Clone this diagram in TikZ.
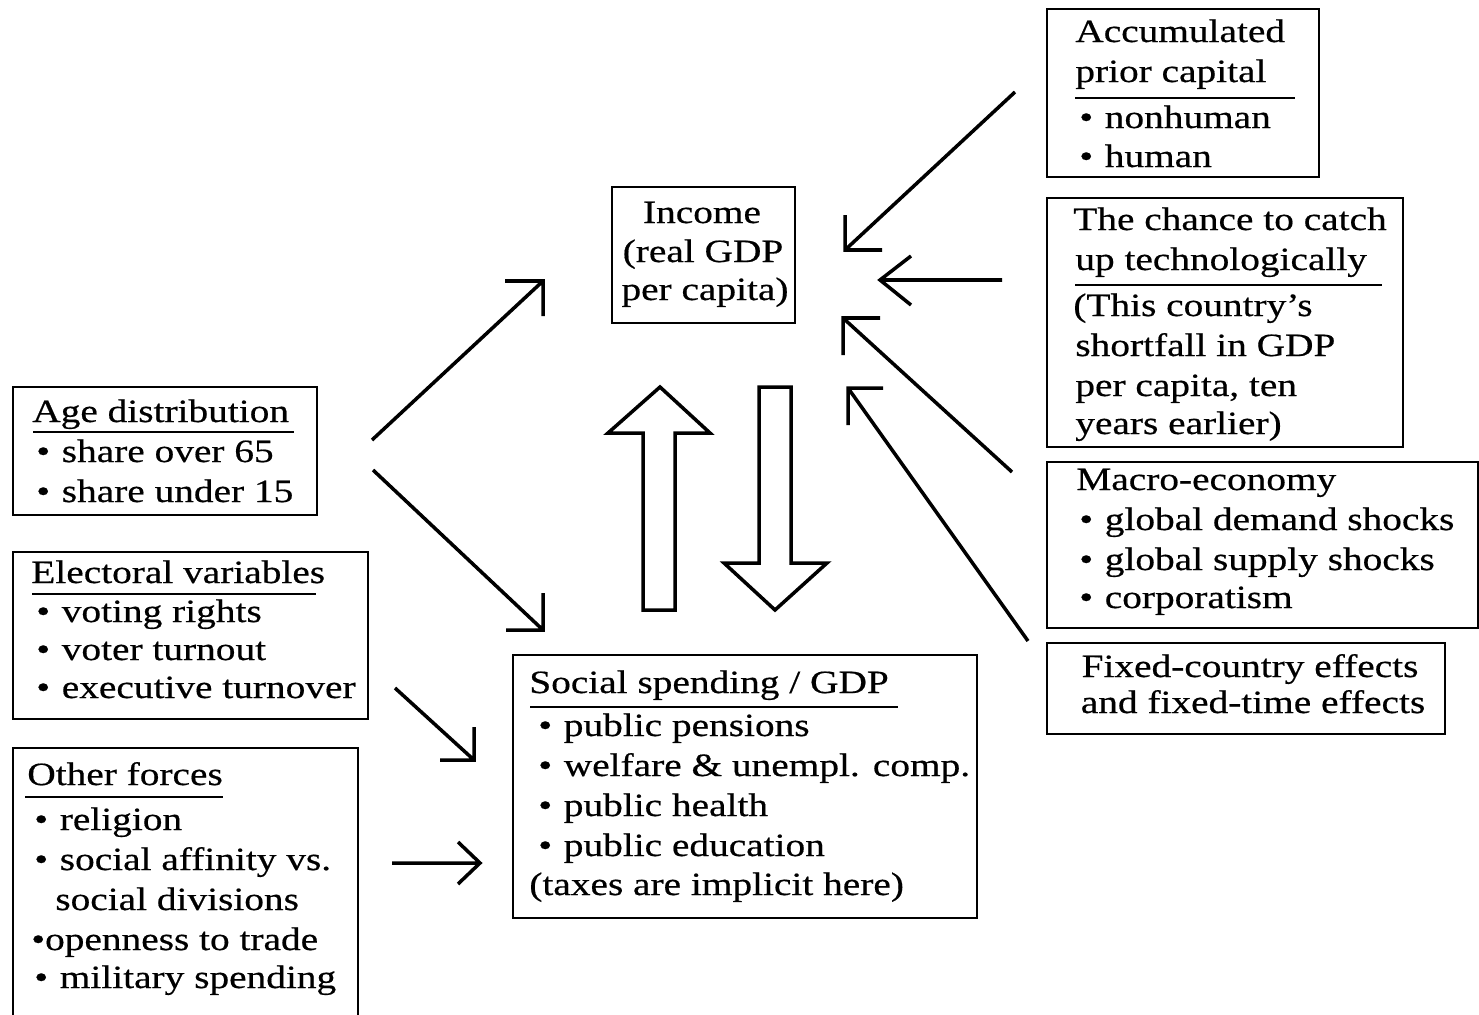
\documentclass[tikz,border=0pt]{standalone}
\usepackage{fontspec}
\setmainfont[FakeStretch=1.21, FakeBold=0.5]{Liberation Serif}
\usetikzlibrary{fit}
\newcommand{\diagfont}{\fontsize{18.5}{22}\selectfont}
\newcommand{\bul}{\textbullet\hspace{0.36em}}

\begin{document}
\begin{tikzpicture}[x=0.02cm, y=-0.02cm,
  box/.style={draw, line width=1.2pt, inner sep=0pt},
  ln/.style={anchor=base west, inner sep=0pt, font=\diagfont},
  lc/.style={anchor=base, inner sep=0pt, font=\diagfont},
  headrule/.style={line width=1.1pt},
  conn/.style={line width=2pt, line join=miter},
  block/.style={draw, line width=2pt, fill=white, line join=miter}]

\path[use as bounding box, clip] (0,0) rectangle (1479,1014);

% ---- boxes ----
\node[box, fit={(612,187)(795,323)}]   (income)    {};
\node[box, fit={(1047,9)(1319,177)}]   (capital)   {};
\node[box, fit={(1047,198)(1403,447)}] (catchup)   {};
\node[box, fit={(1047,462)(1478,628)}] (macro)     {};
\node[box, fit={(1047,643)(1445,734)}] (fixed)     {};
\node[box, fit={(13,387)(317,515)}]    (age)       {};
\node[box, fit={(13,552)(368,719)}]    (electoral) {};
\node[box, fit={(13,748)(358,1040)}]   (other)     {};
\node[box, fit={(513,655)(977,918)}]   (social)    {};

% ---- income ----
\node[lc] (inc1) at (702,223) {Income};
\node[lc] (inc2) at (703,262) {(real GDP};
\node[lc] (inc3) at (705,300) {per capita)};

% ---- accumulated capital ----
\node[ln] (cap1) at (1075,42)  {Accumulated};
\node[ln] (cap2) at (1075,82)  {prior capital};
\draw[headrule] (1075,98) -- (1295,98);
\node[ln] (cap3) at (1079,128) {\bul nonhuman};
\node[ln] (cap4) at (1079,167) {\bul human};

% ---- catch-up ----
\node[ln] (cat1) at (1073,230) {The chance to catch};
\node[ln] (cat2) at (1075,270) {up technologically};
\draw[headrule] (1075,285) -- (1382,285);
\node[ln] (cat3) at (1073,316) {(This country’s};
\node[ln] (cat4) at (1075,356) {shortfall in GDP};
\node[ln] (cat5) at (1075,396) {per capita, ten};
\node[ln] (cat6) at (1075,434) {years earlier)};

% ---- macro-economy ----
\node[ln] (mac1) at (1076,490) {Macro-economy};
\node[ln] (mac2) at (1079,530) {\bul global demand shocks};
\node[ln] (mac3) at (1079,570) {\bul global supply shocks};
\node[ln] (mac4) at (1079,608) {\bul corporatism};

% ---- fixed effects ----
\node[lc] (fix1) at (1250,677) {Fixed-country effects};
\node[lc] (fix2) at (1253,713) {and fixed-time effects};

% ---- age distribution ----
\node[ln] (age1) at (32,422) {Age distribution};
\draw[headrule] (33,432) -- (294,432);
\node[ln] (age2) at (36,462) {\bul share over 65};
\node[ln] (age3) at (36,502) {\bul share under 15};

% ---- electoral variables ----
\node[ln] (ele1) at (31,583) {Electoral variables};
\draw[headrule] (32,594) -- (316,594);
\node[ln] (ele2) at (36,622) {\bul voting rights};
\node[ln] (ele3) at (36,660) {\bul voter turnout};
\node[ln] (ele4) at (36,698) {\bul executive turnover};

% ---- other forces ----
\node[ln] (oth1) at (27,785) {Other forces};
\draw[headrule] (25,797) -- (223,797);
\node[ln] (oth2) at (34,830) {\bul religion};
\node[ln] (oth3) at (34,870) {\bul social affinity vs.};
\node[ln] (oth4) at (55,910) {social divisions};
\node[ln] (oth5) at (31,950) {\textbullet openness to trade};
\node[ln] (oth6) at (34,988) {\bul military spending};

% ---- social spending ----
\node[ln] (soc1) at (529,693) {Social spending / GDP};
\draw[headrule] (530,707) -- (898,707);
\node[ln] (soc2) at (538,736) {\bul public pensions};
\node[ln] (soc3) at (538,776) {\bul welfare \& unempl. comp.};
\node[ln] (soc4) at (538,816) {\bul public health};
\node[ln] (soc5) at (538,856) {\bul public education};
\node[ln] (soc6) at (529,895) {(taxes are implicit here)};

% ---- connector end points ----
\coordinate (ageA)  at (372,440);  \coordinate (ageAt) at (543,281);
\coordinate (ageB)  at (373,470);  \coordinate (ageBt) at (543,630);
\coordinate (eleA)  at (395,688);  \coordinate (eleAt) at (474,760);
\coordinate (othA)  at (392,863);  \coordinate (othAt) at (480,863);
\coordinate (capA)  at (1015,92);  \coordinate (capAt) at (845,250);
\coordinate (catA)  at (1002,280); \coordinate (catAt) at (880,280);
\coordinate (macA)  at (1012,472); \coordinate (macAt) at (843,318);
\coordinate (fixA)  at (1028,641); \coordinate (fixAt) at (848,388);

% ---- connectors with open corner heads ----
\draw[conn] (ageA) -- (ageAt) ++(-38,0) -- (ageAt) -- ++(0,35);
\draw[conn] (ageB) -- (ageBt) ++(-37,0) -- (ageBt) -- ++(0,-37);
\draw[conn] (eleA) -- (eleAt) ++(-34,0) -- (eleAt) -- ++(0,-33);
\draw[conn] (othA) -- (othAt) ++(-22,-21) -- (othAt) -- ++(-22,21);
\draw[conn] (capA) -- (capAt) ++(0,-35) -- (capAt) -- ++(37,0);
\draw[conn] (catA) -- (catAt) ++(31,-24) -- (catAt) -- ++(31,25);
\draw[conn] (macA) -- (macAt) ++(37,0) -- (macAt) -- ++(0,37);
\draw[conn] (fixA) -- (fixAt) ++(35,0) -- (fixAt) -- ++(0,37);

% ---- hollow block arrows between income and social spending ----
\draw[block] (643,610) -- (643,433) -- (608,433) -- (660,387) -- (710,433)
  -- (675,433) -- (675,610) -- cycle;
\draw[block] (759,387) -- (791,387) -- (791,563) -- (827,563) -- (775,610)
  -- (724,563) -- (759,563) -- cycle;

\end{tikzpicture}
\end{document}
